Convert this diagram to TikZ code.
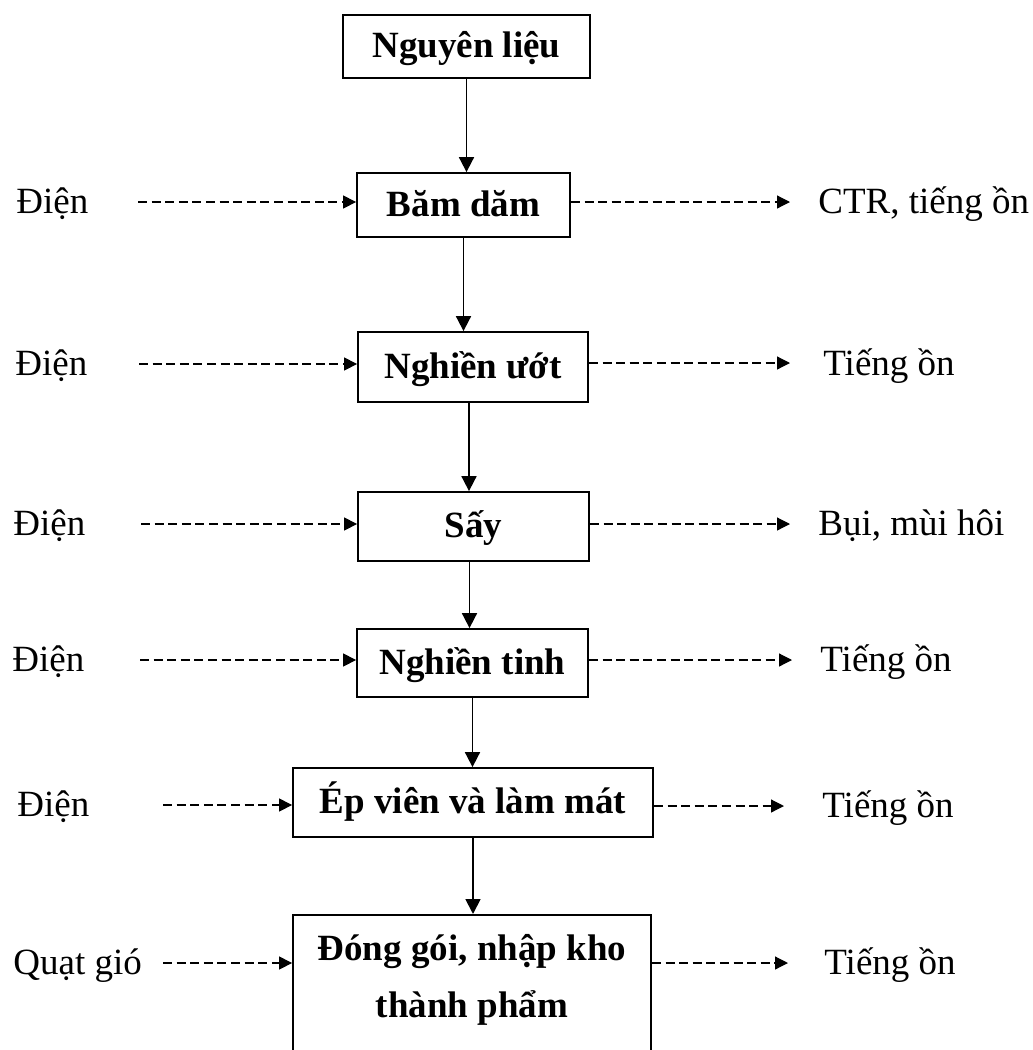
\documentclass[tikz,border=0pt]{standalone}
\usepackage{fontspec}
\setmainfont{Liberation Serif}
\usetikzlibrary{arrows.meta}

\tikzset{
  stage/.style={draw, line width=0.9pt, inner sep=0pt,
    font=\fontsize{18.5}{28.5}\selectfont\bfseries, text height=14pt, text depth=3pt},
  side/.style={inner sep=0pt, anchor=base west, font=\fontsize{18.5}{22}\selectfont},
  flow/.style={line width=0.9pt, -{Triangle[length=7.5pt,width=7.5pt]}},
  aux/.style={line width=0.6pt, dash pattern=on 4.5pt off 2.3pt, -{Triangle[length=6.5pt,width=6.5pt]}}
}

\begin{document}
\begin{tikzpicture}[x=0.5pt,y=-0.5pt]
\useasboundingbox (0,0) rectangle (1033,1050);
\clip (0,0) rectangle (1033,1050);
% main line
\node[stage, minimum width=123.5pt, minimum height=31.5pt] (lieu) at (466.5,46.5) {Nguyên liệu};
\node[stage, minimum width=106.5pt, minimum height=32pt] (bam) at (463.5,205) {Băm dăm};
\node[stage, minimum width=115pt, minimum height=35pt] (uot) at (473,367) {Nghiền ướt};
\node[stage, minimum width=115.5pt, minimum height=34.5pt] (say) at (473.5,526.5) {Sấy};
\node[stage, minimum width=115.5pt, minimum height=34pt] (tinh) at (472.5,663) {Nghiền tinh};
\node[stage, minimum width=180pt, minimum height=34.5pt] (ep) at (473,802.5) {Ép viên và làm mát};
\node[stage, anchor=north, minimum width=179pt, align=center, text height=51.5pt, text depth=36.5pt] (goi) at (472,914) {Đóng gói, nhập kho\\thành phẩm};
\draw[flow] (lieu.south) -- (lieu.south |- bam.north);
\draw[flow] (bam.south) -- (bam.south |- uot.north);
\draw[flow] (uot.south) ++(-4,0) coordinate (u1) -- (u1 |- say.north);
\draw[flow] (say.south) ++(-4,0) coordinate (s1) -- (s1 |- tinh.north);
\draw[flow] (tinh.south) -- (tinh.south |- ep.north);
\draw[flow] (ep.south) -- (ep.south |- goi.north);
% inputs
\node[side] (e1) at (16,213) {Điện};
\node[side] (e2) at (15,375) {Điện};
\node[side] (e3) at (13,535) {Điện};
\node[side] (e4) at (12,671) {Điện};
\node[side] (e5) at (17,816) {Điện};
\node[side] (e6) at (13,974) {Quạt gió};
\coordinate (i1) at (138,202);
\coordinate (i2) at (139,364);
\coordinate (i3) at (141,524);
\coordinate (i4) at (140,660);
\coordinate (i5) at (163,805);
\coordinate (i6) at (163,963);
\draw[aux] (i1) -- (i1 -| bam.west);
\draw[aux] (i2) -- (i2 -| uot.west);
\draw[aux] (i3) -- (i3 -| say.west);
\draw[aux] (i4) -- (i4 -| tinh.west);
\draw[aux] (i5) -- (i5 -| ep.west);
\draw[aux] (i6) -- (i6 -| goi.west);
% outputs
\node[side] (r1) at (818,213) {CTR, tiếng ồn};
\node[side] (r2) at (823,375) {Tiếng ồn};
\node[side] (r3) at (818,535) {Bụi, mùi hôi};
\node[side] (r4) at (820,671) {Tiếng ồn};
\node[side] (r5) at (822,817) {Tiếng ồn};
\node[side] (r6) at (824,974) {Tiếng ồn};
\coordinate (o1) at (790,202);
\coordinate (o2) at (790,363);
\coordinate (o3) at (790,524);
\coordinate (o4) at (792,660);
\coordinate (o5) at (784,806);
\coordinate (o6) at (788,963);
\draw[aux] (o1 -| bam.east) -- (o1);
\draw[aux] (o2 -| uot.east) -- (o2);
\draw[aux] (o3 -| say.east) -- (o3);
\draw[aux] (o4 -| tinh.east) -- (o4);
\draw[aux] (o5 -| ep.east) -- (o5);
\draw[aux] (o6 -| goi.east) -- (o6);
\end{tikzpicture}
\end{document}
